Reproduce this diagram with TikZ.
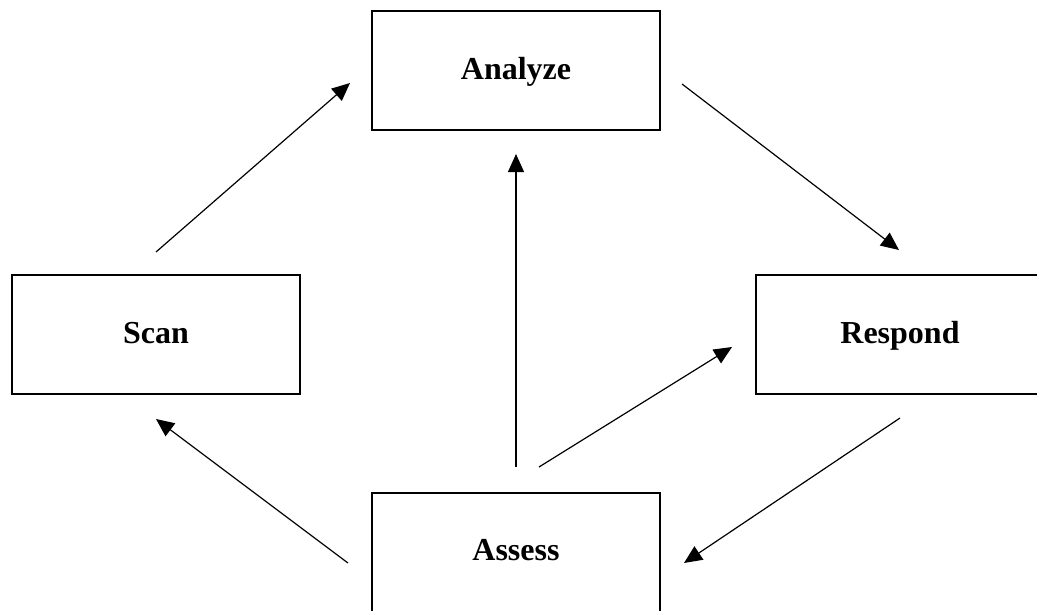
\documentclass[tikz,border=0pt]{standalone}
\usepackage{fontspec}
\setmainfont{Liberation Serif}
\usetikzlibrary{arrows.meta}

\begin{document}
\begin{tikzpicture}[x=0.5pt, y=-0.5pt,
    stage/.style={draw, line width=1pt, minimum width=144pt, minimum height=59.5pt,
        inner sep=0pt, font=\fontsize{16}{19}\selectfont\bfseries,
        text height=10.6pt, text depth=2pt},
    flow/.style={line width=0.6pt, -{Triangle[length=9pt, width=8pt]}}]
    \useasboundingbox (0, 0) rectangle (1037, 610);

    % Stages
    \node[stage] (analyze) at (516, 70.5) {Analyze};
    \node[stage] (scan) at (156, 334.5) {Scan};
    \node[stage] (respond) at (900, 334.5) {Respond};
    \node[stage] (assess) at (516, 552) {Assess};

    % Free ends of the arrows
    \coordinate (scan out) at (156, 252);
    \coordinate (analyze in) at (350, 83);
    \coordinate (analyze out) at (682, 84);
    \coordinate (respond in) at (899, 250);
    \coordinate (respond out) at (900, 418);
    \coordinate (respond in2) at (732, 347);
    \coordinate (assess up) at (516, 467);
    \coordinate (analyze in2) at (516, 154);
    \coordinate (assess right) at (539, 467);
    \coordinate (assess in) at (684, 563);
    \coordinate (assess left) at (348, 563);
    \coordinate (scan in) at (156, 419);

    % Cycle
    \draw[flow] (scan out) -- (analyze in);
    \draw[flow] (analyze out) -- (respond in);
    \draw[flow] (respond out) -- (assess in);
    \draw[flow] (assess left) -- (scan in);
    \draw[flow] (assess up) -- (analyze in2);
    \draw[flow] (assess right) -- (respond in2);
\end{tikzpicture}
\end{document}
